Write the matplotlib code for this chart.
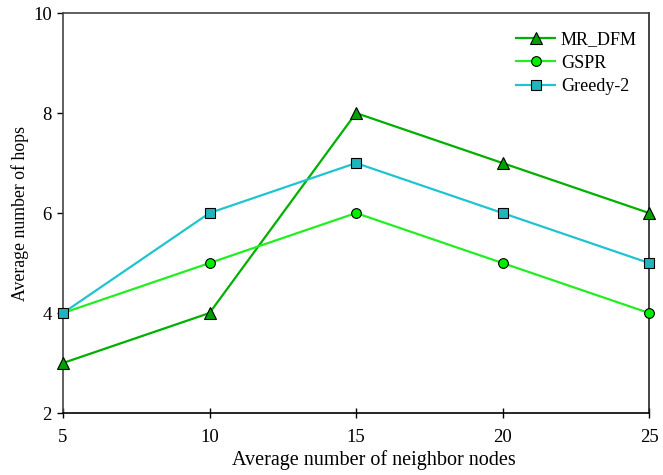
import matplotlib
matplotlib.use('Agg')
import matplotlib.pyplot as plt

plt.rcParams['font.family'] = 'Liberation Serif'
plt.rcParams['font.size'] = 15

neighbors = [5, 10, 15, 20, 25]
mr_dfm = [3, 4, 8, 7, 6]
gspr = [4, 5, 6, 5, 4]
greedy2 = [4, 6, 7, 6, 5]

fig = plt.figure(figsize=(6.63, 4.75), dpi=100)
ax = fig.add_axes([0.095, 0.1305, 0.884, 0.842])

ax.plot(neighbors, mr_dfm, color='#00b000', lw=1.6, marker='^', ms=8,
        mfc='#00a000', mec='black', mew=0.8, label='MR_DFM', clip_on=False, zorder=3)
ax.plot(neighbors, gspr, color='#22ee22', lw=1.6, marker='o', ms=7,
        mfc='#00ee00', mec='black', mew=0.8, label='GSPR', clip_on=False, zorder=3)
ax.plot(neighbors, greedy2, color='#20c4d0', lw=1.6, marker='s', ms=7,
        mfc='#20b4bc', mec='black', mew=0.8, label='Greedy-2', clip_on=False, zorder=3)

ax.set_xlim(5, 25)
ax.set_ylim(2, 10)
ax.set_xticks([5, 10, 15, 20, 25])
ax.set_yticks([2, 4, 6, 8, 10])
ax.tick_params(axis='x', direction='inout', length=7, width=1, pad=8, labelsize=13.5)
ax.tick_params(axis='y', direction='out', length=4, width=1, pad=4, labelsize=13.5)
ax.spines['left'].set_color('#444444')
ax.spines['top'].set_color('#444444')
ax.spines['right'].set_color('#222222')
for s in ax.spines.values():
    s.set_linewidth(1.2)

ax.set_xlabel('Average number of neighbor nodes', fontsize=14.5, labelpad=3)
ax.xaxis.label.set_x(0.53)
ax.set_ylabel('Average number of hops', fontsize=12.8, labelpad=3)
ax.legend(loc='upper right', bbox_to_anchor=(0.9915, 0.9725), frameon=False,
          handlelength=2.2, fontsize=13, handletextpad=0.3, labelspacing=0.35,
          borderaxespad=0)

fig.savefig('out.png', dpi=100)
